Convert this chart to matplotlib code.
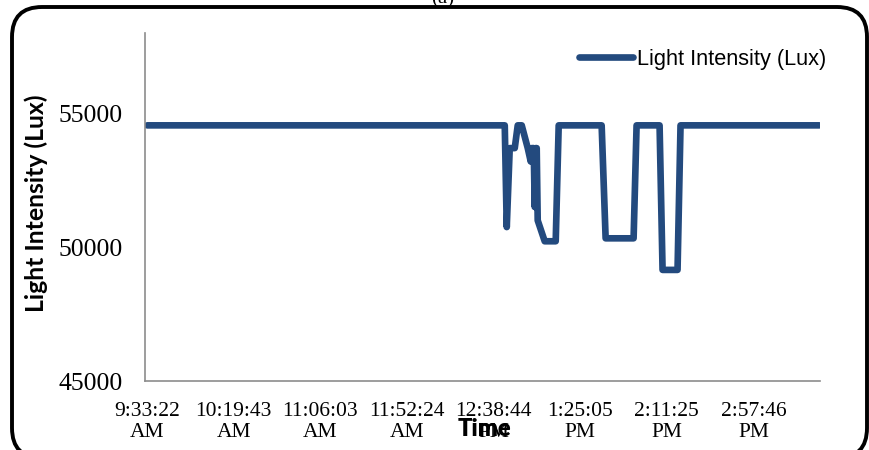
import matplotlib.pyplot as plt
from matplotlib.patches import FancyBboxPatch
from datetime import datetime

# readings (24h clock) and light intensity in lux
times = ["09:33:22", "12:44:43", "12:45:47", "12:47:23", "12:50:04", "12:51:40",
         "12:53:48", "12:57:01", "12:58:37", "12:59:09", "13:00:13", "13:00:45",
         "13:01:17", "13:01:49", "13:02:21", "13:06:06", "13:11:59", "13:13:35",
         "13:36:34", "13:38:42", "13:53:40", "13:55:16", "14:07:34", "14:09:10",
         "14:17:11", "14:18:47", "15:33:05"]
lux = [54550, 54550, 50750, 53700, 53700, 54550,
       54550, 53700, 53200, 53700, 53700, 51500,
       53700, 53700, 51000, 50220, 50220, 54550,
       54550, 50330, 50330, 54550, 54550, 49150,
       49150, 54550, 54550]

tick_labels = ["9:33:22 AM", "10:19:43 AM", "11:06:03 AM", "11:52:24 AM",
               "12:38:44 PM", "1:25:05 PM", "2:11:25 PM", "2:57:46 PM"]
y_ticks = [45000, 50000, 55000]


def to_sec(s, fmt):
    t = datetime.strptime(s, fmt)
    return t.hour * 3600 + t.minute * 60 + t.second


x = [to_sec(t, "%H:%M:%S") for t in times]
tick_pos = [to_sec(t, "%I:%M:%S %p") for t in tick_labels]

W, H = 870, 450
fig = plt.figure(figsize=(W / 100, H / 100), dpi=100)
ax = fig.add_axes([145 / W, 69 / H, 675 / W, 348 / H])

ax.plot(x, lux, color="#234a7e", lw=4.8, solid_joinstyle="round",
        solid_capstyle="round", label="Light Intensity (Lux)")

ax.set_xlim(x[0] - 70, x[-1] + 20)
ax.set_ylim(45000, 58000)
ax.set_yticks(y_ticks)
ax.set_yticklabels([str(v) for v in y_ticks], family="Liberation Serif", fontsize=18.5)
ax.set_xticks(tick_pos)
ax.set_xticklabels([t.replace(" ", "\n") for t in tick_labels],
                   family="Liberation Serif", fontsize=15.5, linespacing=1.15)
ax.tick_params(axis="y", length=0, pad=16)
ax.tick_params(axis="x", length=0, pad=15)

for side in ["top", "right"]:
    ax.spines[side].set_visible(False)
for side in ["left", "bottom"]:
    ax.spines[side].set_color("#8c8c8c")
    ax.spines[side].set_linewidth(1.2)

ax.set_ylabel("Light Intensity (Lux)", family="Lato", fontweight="bold", fontsize=17.8)
ax.yaxis.set_label_coords(-97 / 675, (381 - 203) / 348)
ax.set_xlabel("Time", family="Lato", fontweight="heavy", fontsize=17)
ax.xaxis.set_label_coords((484 - 145) / 675, -0.106)

leg = ax.legend(loc="upper right", frameon=False, fontsize=15.7, handlelength=2.5,
                handletextpad=0.15, borderpad=0, borderaxespad=0,
                bbox_to_anchor=(826 / W, 1 - 49 / H), bbox_transform=fig.transFigure)
for txt in leg.get_texts():
    txt.set_family("Liberation Sans")

# rounded outer frame
frame = FancyBboxPatch((12 / 100, -8 / 100), (867 - 12) / 100, (458 - 7) / 100,
                       boxstyle="round,pad=0,rounding_size=0.3",
                       transform=fig.dpi_scale_trans, fill=False,
                       edgecolor="black", linewidth=2.8, clip_on=False)
fig.patches.append(frame)
fig.text(443 / W, 1 - 3 / H, "(a)", ha="center", va="baseline",
         family="Liberation Serif", fontsize=15)

fig.savefig("out.png", dpi=100)
